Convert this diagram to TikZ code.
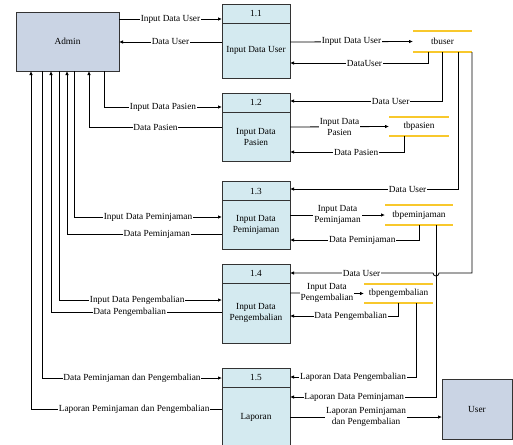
\documentclass[tikz,border=0pt]{standalone}
\usepackage{fontspec}
\setmainfont{Liberation Serif}
\usetikzlibrary{positioning,arrows.meta}
\definecolor{procfill}{HTML}{D4EAF0}
\definecolor{entfill}{HTML}{CAD4E4}
\definecolor{storeline}{HTML}{F8C82C}
\definecolor{edgegray}{HTML}{333333}
\begin{document}
\begin{tikzpicture}[x=1pt, y=-1pt, >={Latex[length=4pt,width=3.5pt]},
    entity/.style={draw=edgegray, fill=entfill, line width=0.9pt, outer sep=0pt},
    prochead/.style={draw=edgegray, fill=procfill, line width=0.9pt, minimum width=68pt, minimum height=19pt, inner sep=0pt, outer sep=0pt, align=center},
    store/.style={minimum height=20pt, inner sep=0pt, outer sep=0pt},
    flow/.style={->, line width=0.8pt},
    lbl/.style={fill=white, inner sep=0.8pt, align=center}]
        \tikzstyle{every node}=[font=\fontsize{9.3}{11}\selectfont]
        \useasboundingbox (0,0) rectangle (513,444);

        % external entities
        \node[entity, minimum width=103pt, minimum height=59pt] (admin) at (67.5,41.5) {Admin};
        \node[entity, minimum width=70pt, minimum height=60pt] (user) at (477,409) {User};

        % processes
        \node[prochead] (h1) at (256,13.5) {1.1};
        \node[prochead, minimum height=55pt, below=0pt of h1] (p1) {Input Data User};
        \node[prochead] (h2) at (256,102.5) {1.2};
        \node[prochead, minimum height=49pt, below=0pt of h2] (p2) {Input Data\\Pasien};
        \node[prochead] (h3) at (256,191) {1.3};
        \node[prochead, minimum height=49pt, below=0pt of h3] (p3) {Input Data\\Peminjaman};
        \node[prochead] (h4) at (256,273.5) {1.4};
        \node[prochead, minimum height=60pt, below=0pt of h4] (p4) {Input Data\\Pengembalian};
        \node[prochead] (h5) at (256,377.5) {1.5};
        \node[prochead, minimum height=60pt, below=0pt of h5] (p5) {Laporan};

        % data stores
        \node[store, minimum width=59pt, minimum height=21pt] (tbuser) at (442.5,41.5) {tbuser};
        \node[store, minimum width=60pt, minimum height=19pt] (tbpasien) at (419,126.5) {tbpasien};
        \node[store, minimum width=68pt] (tbpeminjaman) at (419,215) {tbpeminjaman};
        \node[store, minimum width=69pt, minimum height=19pt] (tbpengembalian) at (398.5,293.5) {tbpengembalian};
        \foreach \s in {tbuser,tbpasien,tbpeminjaman,tbpengembalian}
          \draw[storeline, line width=1.2pt] (\s.north west) -- (\s.north east) (\s.south west) -- (\s.south east);

        % 1.1
        \draw[flow] (admin.east |- 0,19) -- node[lbl]{Input Data User} (h1.west |- 0,19);
        \draw[flow] (p1.west |- 0,42) -- node[lbl]{Data User} (admin.east |- 0,42);
        \draw[flow] (p1.east |- 0,42) -- node[lbl]{Input Data User} (tbuser.west);
        \draw[flow] (tbuser.south -| 428,0) |- node[lbl,pos=0.73]{DataUser} (p1.east |- 0,63);
        \draw[flow] (tbuser.south) |- node[lbl,pos=0.67]{Data User} (h2.east |- 0,101);
        \draw[flow] (tbuser.south -| 458,0) |- node[lbl,pos=0.65]{Data User} (h3.east |- 0,189);
        \draw[flow] (tbuser.south east) -- (tbuser.south east |- 0,273) -- (439,273)
          arc[start angle=0, end angle=180, radius=3] -- node[lbl]{Data User} (h4.east |- 0,273);

        % 1.2
        \draw[flow] (admin.south -| 104,0) |- node[lbl,pos=0.75]{Input Data Pasien} (h2.west |- 0,107);
        \draw[flow] (p2.west |- 0,127) -| node[lbl,pos=0.25]{Data Pasien} (admin.south -| 89,0);
        \draw[flow] (p2.east |- 0,127) -- node[lbl]{Input Data\\Pasien} (tbpasien.west);
        \draw[flow] (tbpasien.south -| 404,0) |- node[lbl,pos=0.71]{Data Pasien} (p2.east |- 0,152);

        % 1.3
        \draw[flow] (admin.south -| 74,0) |- node[lbl,pos=0.75]{Input Data Peminjaman} (p3.west |- 0,217);
        \draw[flow] (p3.west |- 0,234) -| node[lbl,pos=0.21]{Data Peminjaman} (admin.south -| 67,0);
        \draw[flow] (p3.east |- 0,215) -- node[lbl]{Input Data\\Peminjaman} (tbpeminjaman.west);
        \draw[flow] (tbpeminjaman.south) |- node[lbl,pos=0.72]{Data Peminjaman} (p3.east |- 0,240);

        % 1.4
        \draw[flow] (admin.south -| 59,0) |- node[lbl,pos=0.74]{Input Data Pengembalian} (p4.west |- 0,300);
        \draw[flow] (p4.west |- 0,312) -| node[lbl,pos=0.27]{Data Pengembalian} (admin.south -| 51,0);
        \draw[flow] (p4.east |- 0,293) -- node[lbl]{Input Data\\Pengembalian} (tbpengembalian.west);
        \draw[flow] (tbpengembalian.south) |- node[lbl,pos=0.72]{Data Pengembalian} (p4.east |- 0,316);

        % 1.5
        \draw[flow] (admin.south -| 42,0) |- node[lbl,pos=0.75]{Data Peminjaman dan Pengembalian} (h5.west |- 0,378);
        \draw[flow] (p5.west |- 0,409) -| node[lbl,pos=0.23]{Laporan Peminjaman dan Pengembalian} (admin.south -| 31,0);
        \draw[flow] (tbpengembalian.south -| 416,0) |- node[lbl,pos=0.75]{Laporan Data Pengembalian} (h5.east |- 0,377);
        \draw[flow] (tbpeminjaman.south -| 436,0) |- node[lbl,pos=0.78]{Laporan Data Peminjaman} (p5.east |- 0,397);
        \draw[flow] (p5.east |- 0,417) -- node[lbl]{Laporan Peminjaman\\dan Pengembalian} (user.west |- 0,417);

\end{tikzpicture}
\end{document}
